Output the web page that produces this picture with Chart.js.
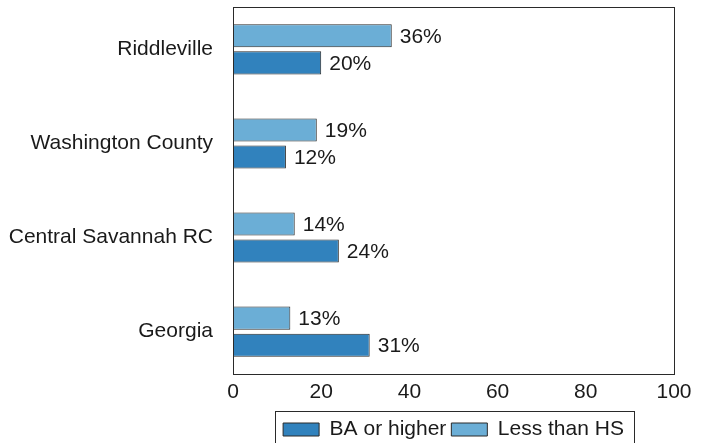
<!DOCTYPE html>
<html><head><meta charset="utf-8">
<script src="https://cdn.jsdelivr.net/npm/chart.js@4"></script>
<style>html,body{margin:0;padding:0;background:#fff}#wrap{width:709px;height:443px}</style>
</head><body><div id="wrap"><canvas id="c" width="709" height="443"></canvas></div>
<script>
const categories = ['Riddleville', 'Washington County', 'Central Savannah RC', 'Georgia'];
const lessThanHS = [36, 19, 14, 13];
const baOrHigher = [20, 12, 24, 31];
const xTicks = [0, 20, 40, 60, 80, 100];
const seriesNames = ['Less than HS', 'BA or higher'];

const FONT = { family: '"Liberation Sans", Arial, sans-serif', size: 21 };
const TEXT = '#1a1a1a';
const EDGE = '#2a2a2a';

const framePlugin = {
  id: 'frame',
  afterDatasetsDraw(chart) {
    const { ctx, chartArea: a } = chart;
    ctx.save();
    ctx.strokeStyle = EDGE;
    ctx.lineWidth = 1;
    ctx.strokeRect(Math.round(a.left) + 0.5, Math.round(a.top) + 0.5, Math.round(a.right - a.left), Math.round(a.bottom - a.top));
    ctx.restore();
  }
};

const labelPlugin = {
  id: 'barLabels',
  afterDatasetsDraw(chart) {
    const { ctx } = chart;
    ctx.save();
    ctx.font = FONT.size + 'px ' + FONT.family;
    ctx.fillStyle = TEXT;
    ctx.textAlign = 'left';
    ctx.textBaseline = 'middle';
    chart.data.datasets.forEach((ds, di) => {
      const meta = chart.getDatasetMeta(di);
      meta.data.forEach((el, i) => {
        ctx.fillText(ds.data[i].x + '%', el.x + 8, el.y + 1);
      });
    });
    ctx.restore();
  }
};

const legendPlace = {
  id: 'legendPlace',
  afterLayout(chart) {
    const lg = chart.legend;
    const a = chart.chartArea;
    const h = lg.height;
    lg.left = a.left;
    lg.right = a.right;
    lg.width = a.right - a.left;
    lg.top = 414;
    lg.bottom = 414 + h;
  },
  afterDraw(chart) {
    const lg = chart.legend;
    const hb = lg.legendHitBoxes;
    if (!hb || !hb.length) return;
    let minL = Infinity, maxR = -Infinity;
    hb.forEach(b => { minL = Math.min(minL, b.left); maxR = Math.max(maxR, b.left + b.width); });
    const { ctx } = chart;
    ctx.save();
    ctx.strokeStyle = EDGE;
    ctx.lineWidth = 1;
    ctx.strokeRect(Math.round(minL - 8) + 0.5, 411.5, Math.round(maxR - minL + 18), 40);
    ctx.restore();
  }
};

new Chart(document.getElementById('c'), {
  type: 'bar',
  data: {
    datasets: [
      {
        label: seriesNames[0],
        data: lessThanHS.map((v, i) => ({ x: v, y: i })),
        backgroundColor: '#6baed6',
        borderColor: EDGE,
        borderWidth: 1,
        borderSkipped: false
      },
      {
        label: seriesNames[1],
        data: baOrHigher.map((v, i) => ({ x: v, y: i })),
        backgroundColor: '#3182bd',
        borderColor: EDGE,
        borderWidth: 1,
        borderSkipped: false
      }
    ]
  },
  options: {
    indexAxis: 'y',
    responsive: false,
    animation: false,
    devicePixelRatio: 1,
    categoryPercentage: 0.5745,
    barPercentage: 0.852,
    layout: { padding: { top: 7, right: 35, bottom: 0, left: 0 } },
    scales: {
      x: {
        type: 'linear',
        min: 0,
        max: 100,
        offset: false,
        afterBuildTicks: s => { s.ticks = xTicks.map(v => ({ value: v })); },
        afterFit: s => { s.height = 33; },
        grid: { display: false, drawTicks: false },
        border: { display: false },
        ticks: { font: FONT, color: TEXT, padding: 6, maxRotation: 0 }
      },
      y: {
        type: 'linear',
        reverse: true,
        offset: false,
        min: -0.45,
        max: 3.45,
        afterBuildTicks: s => { s.ticks = categories.map((c, i) => ({ value: i })); },
        afterFit: s => { s.width = 233; s.paddingTop = 0; s.paddingBottom = 0; },
        grid: { display: false, drawTicks: false, offset: false },
        border: { display: false },
        ticks: {
          font: FONT, color: TEXT, padding: 20,
          callback: v => categories[Math.round(v)]
        }
      }
    },
    plugins: {
      legend: {
        position: 'bottom',
        reverse: true,
        labels: {
          font: FONT,
          color: TEXT,
          boxWidth: 36,
          boxHeight: 13,
          padding: 5
        }
      },
      tooltip: { enabled: false }
    }
  },
  plugins: [framePlugin, labelPlugin, legendPlace]
});
</script>
</body></html>
